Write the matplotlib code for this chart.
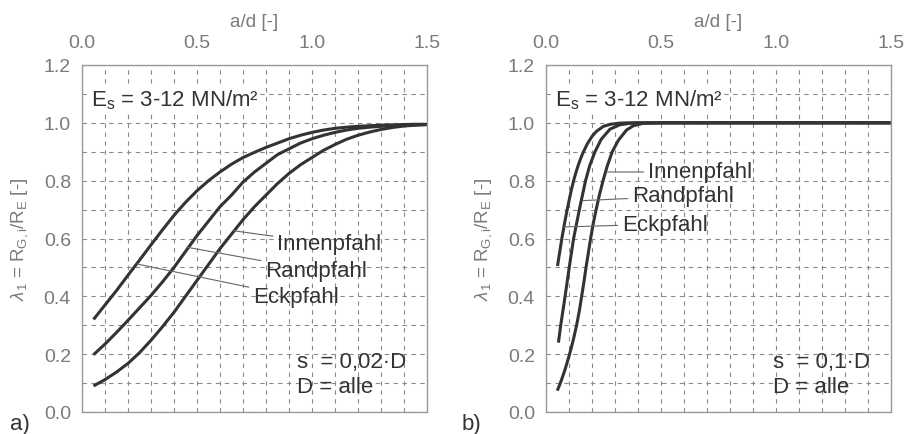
import numpy as np
import matplotlib
matplotlib.use("Agg")
import matplotlib.pyplot as plt
from matplotlib.ticker import MultipleLocator

plt.rcParams['font.family'] = ['Liberation Sans', 'DejaVu Sans']
plt.rcParams['mathtext.fontset'] = 'custom'
plt.rcParams['mathtext.rm'] = 'Liberation Sans'
plt.rcParams['mathtext.it'] = 'Liberation Sans:italic'

# ---- data ----
# panel a) s = 0,02*D
ad_a = [0.05, 0.10, 0.15, 0.20, 0.25, 0.30, 0.35, 0.40, 0.45, 0.50, 0.55, 0.60, 0.65, 0.70,
        0.75, 0.80, 0.85, 0.90, 0.95, 1.00, 1.05, 1.10, 1.15, 1.20, 1.25, 1.30, 1.35, 1.40,
        1.45, 1.50]
eck_a = [0.32, 0.37, 0.42, 0.473, 0.525, 0.578, 0.63, 0.68, 0.725, 0.765, 0.80, 0.83, 0.857,
         0.88, 0.898, 0.915, 0.93, 0.945, 0.957, 0.967, 0.975, 0.981, 0.985, 0.988, 0.990,
         0.992, 0.993, 0.994, 0.995, 0.995]
rand_a = [0.198, 0.235, 0.275, 0.317, 0.36, 0.403, 0.45, 0.50, 0.555, 0.61, 0.66, 0.71, 0.75,
          0.795, 0.83, 0.86, 0.89, 0.91, 0.93, 0.945, 0.957, 0.967, 0.975, 0.981, 0.985,
          0.988, 0.990, 0.992, 0.993, 0.994]
innen_a = [0.09, 0.112, 0.138, 0.168, 0.205, 0.248, 0.295, 0.345, 0.40, 0.455, 0.51, 0.565,
           0.615, 0.665, 0.71, 0.75, 0.79, 0.825, 0.855, 0.88, 0.905, 0.925, 0.943, 0.957,
           0.968, 0.977, 0.984, 0.989, 0.992, 0.994]

# panel b) s = 0,1*D
ad_eck_b = [0.05, 0.06, 0.07, 0.08, 0.09, 0.10, 0.11, 0.12, 0.13, 0.14, 0.15, 0.16, 0.18,
            0.20, 0.22, 0.25, 0.28, 0.32, 0.36, 0.50, 1.00, 1.50]
eck_b = [0.505, 0.555, 0.605, 0.65, 0.692, 0.73, 0.767, 0.80, 0.828, 0.853, 0.875, 0.895,
         0.928, 0.953, 0.971, 0.988, 0.995, 0.999, 1.0, 1.0, 1.0, 1.0]
ad_rand_b = [0.054, 0.064, 0.083, 0.101, 0.12, 0.145, 0.172, 0.19, 0.213, 0.24, 0.278, 0.32,
             0.36, 0.40, 0.50, 1.00, 1.50]
rand_b = [0.24, 0.30, 0.40, 0.50, 0.60, 0.70, 0.80, 0.852, 0.90, 0.943, 0.978, 0.993, 0.998,
          1.0, 1.0, 1.0, 1.0]
ad_innen_b = [0.049, 0.06, 0.07, 0.08, 0.09, 0.10, 0.11, 0.12, 0.133, 0.145, 0.155, 0.165,
              0.174, 0.184, 0.194, 0.205, 0.218, 0.232, 0.248, 0.266, 0.288, 0.315, 0.35,
              0.38, 0.42, 0.50, 1.00, 1.50]
innen_b = [0.074, 0.095, 0.117, 0.14, 0.166, 0.193, 0.222, 0.254, 0.30, 0.35, 0.40, 0.45,
           0.50, 0.55, 0.60, 0.65, 0.70, 0.75, 0.80, 0.85, 0.90, 0.94, 0.975, 0.99, 0.998,
           1.0, 1.0, 1.0]

panels = [
    dict(tag="a)", s="s  = 0,02\u00b7D", sx=0.935,
         curves=[(ad_a, eck_a), (ad_a, rand_a), (ad_a, innen_a)],
         labels=[("Innenpfahl", (0.658, 0.627), (0.848, 0.581)),
                 ("Randpfahl", (0.455, 0.570), (0.796, 0.489)),
                 ("Eckpfahl", (0.238, 0.512), (0.743, 0.398))]),
    dict(tag="b)", s="s  = 0,1\u00b7D", sx=0.987,
         curves=[(ad_eck_b, eck_b), (ad_rand_b, rand_b), (ad_innen_b, innen_b)],
         labels=[("Innenpfahl", (0.262, 0.83), (0.443, 0.830)),
                 ("Randpfahl", (0.160, 0.731), (0.374, 0.747)),
                 ("Eckpfahl", (0.078, 0.640), (0.330, 0.650))]),
]

W, H = 919, 435
fig = plt.figure(figsize=(W / 100, H / 100), dpi=100)

grey = "#7a7a7a"
dark = "#333333"
lefts = [82, 546]

for left, p in zip(lefts, panels):
    ax = fig.add_axes([left / W, (H - 413) / H, 345 / W, 347 / H])
    ax.set_xlim(0, 1.5)
    ax.set_ylim(0, 1.2)
    ax.xaxis.tick_top()
    ax.xaxis.set_label_position("top")
    ax.xaxis.set_major_locator(MultipleLocator(0.5))
    ax.xaxis.set_minor_locator(MultipleLocator(0.1))
    ax.yaxis.set_major_locator(MultipleLocator(0.2))
    ax.yaxis.set_minor_locator(MultipleLocator(0.1))
    ax.xaxis.set_major_formatter(matplotlib.ticker.FormatStrFormatter("%.1f"))
    ax.yaxis.set_major_formatter(matplotlib.ticker.FormatStrFormatter("%.1f"))
    ax.tick_params(which="both", length=0, labelsize=14, labelcolor=grey, pad=8)
    ax.tick_params(axis="x", pad=10)
    ax.grid(which="both", color="#8a8a8a", linestyle=(0, (4, 4)), linewidth=0.8)
    for sp in ax.spines.values():
        sp.set_color("#999999")
        sp.set_linewidth(1.0)
    ax.set_axisbelow(True)

    ax.set_xlabel("a/d [-]", fontsize=13.5, color=grey, labelpad=6)
    ax.set_ylabel(r"$\lambda_1$ = R$_\mathregular{G,i}$/R$_\mathregular{E}$ [-]",
                  fontsize=13.5, color=grey, labelpad=10)

    for xs, ys in p["curves"]:
        ax.plot(xs, ys, color=dark, linewidth=2.2, solid_capstyle="butt")

    for txt, xy, xyt in p["labels"]:
        ax.annotate(txt, xy=xy, xytext=xyt, fontsize=16, color=dark,
                    ha="left", va="center",
                    arrowprops=dict(arrowstyle="-", color="#666666", lw=0.8,
                                    shrinkA=1, shrinkB=0))

    ax.text(0.04, 1.083, "E$_\\mathregular{s}$ = 3-12 MN/m\u00b2",
            fontsize=16, color=dark, ha="left", va="center",
            bbox=dict(facecolor="white", edgecolor="none", pad=0))
    ax.text(p["sx"], 0.176, p["s"], fontsize=16, color=dark, ha="left", va="center")
    ax.text(p["sx"], 0.087, "D = alle", fontsize=16, color=dark, ha="left", va="center")

fig.text(10 / W, 1 - 425 / H, "a)", fontsize=16, color=dark, ha="left", va="center")
fig.text(462 / W, 1 - 425 / H, "b)", fontsize=16, color=dark, ha="left", va="center")

fig.savefig("out.png", dpi=100, facecolor="white")
